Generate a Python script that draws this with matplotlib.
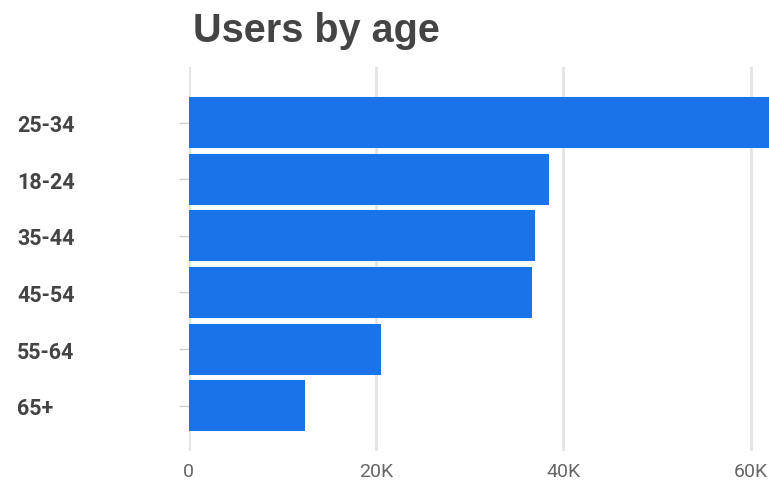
import matplotlib
matplotlib.use('Agg')
import matplotlib.pyplot as plt
from matplotlib.ticker import FuncFormatter

ageGroups = ['25-34', '18-24', '35-44', '45-54', '55-64', '65+']
userCounts = [63000, 38450, 36950, 36650, 20500, 12400]
xTicks = [0, 20000, 40000, 60000]

barColor = '#1a73e8'
gridColor = '#e3e3e3'

fig = plt.figure(figsize=(7.69, 4.81), dpi=100)
ax = fig.add_axes([188.7 / 769, 29 / 481, 580.3 / 769, 384 / 481])

yPos = list(range(len(ageGroups)))
ax.barh(yPos, userCounts, height=0.9, color=barColor, zorder=3)

ax.set_xlim(0, 61945)
ax.set_ylim(len(ageGroups) - 1 + 0.80, -0.98)

ax.set_xticks(xTicks)
ax.xaxis.set_major_formatter(FuncFormatter(lambda v, p: '0' if v == 0 else '%dK' % (v / 1000)))
ax.grid(axis='x', color=gridColor, linewidth=2, zorder=0)
ax.tick_params(axis='x', length=0, pad=8, labelsize=14, labelcolor='#666666')

ax.set_yticks(yPos)
ax.set_yticklabels(ageGroups)
ax.tick_params(axis='y', length=7.2, width=1, color='#d0d0d0', pad=116.4,
               labelsize=15.5, labelcolor='#444444')
for lbl in ax.get_yticklabels():
    lbl.set_horizontalalignment('left')
    lbl.set_fontfamily('Roboto')
    lbl.set_fontweight('bold')
for lbl in ax.get_xticklabels():
    lbl.set_fontfamily('Roboto')

for s in ax.spines.values():
    s.set_visible(False)

fig.text(193 / 769, 1 - 42 / 481, 'Users by age', fontsize=28.5, fontweight='bold',
         color='#444444', family='Liberation Sans', va='baseline', ha='left')

fig.savefig('out.png', dpi=100)
